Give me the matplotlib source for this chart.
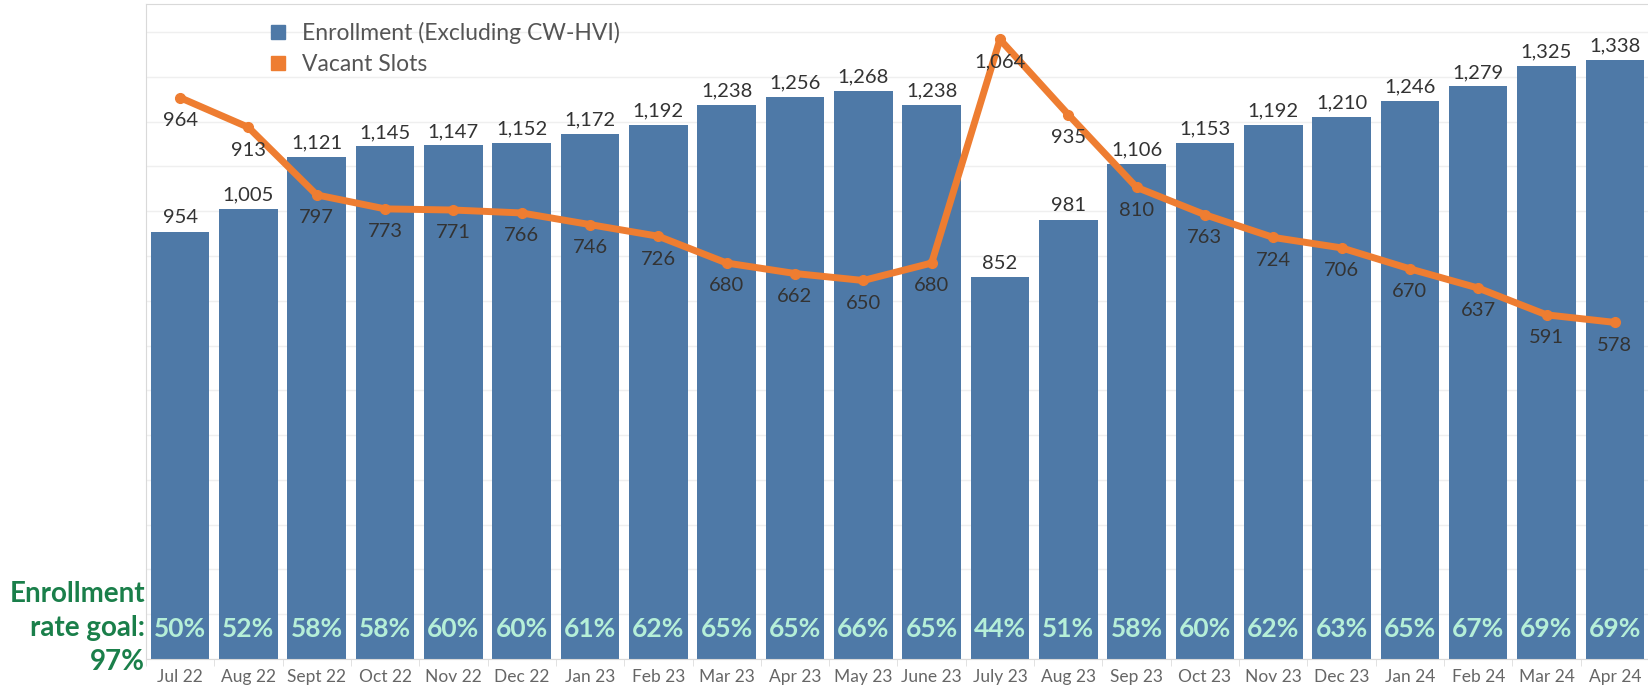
import matplotlib
matplotlib.use("Agg")
import matplotlib.pyplot as plt
from matplotlib.lines import Line2D
import numpy as np

months = ["Jul 22", "Aug 22", "Sept 22", "Oct 22", "Nov 22", "Dec 22", "Jan 23", "Feb 23",
          "Mar 23", "Apr 23", "May 23", "June 23", "July 23", "Aug 23", "Sep 23", "Oct 23",
          "Nov 23", "Dec 23", "Jan 24", "Feb 24", "Mar 24", "Apr 24"]
enrollment = [954, 1005, 1121, 1145, 1147, 1152, 1172, 1192, 1238, 1256, 1268, 1238,
              852, 981, 1106, 1153, 1192, 1210, 1246, 1279, 1325, 1338]
vacant = [964, 913, 797, 773, 771, 766, 746, 726, 680, 662, 650, 680,
          1064, 935, 810, 763, 724, 706, 670, 637, 591, 578]
rate = [50, 52, 58, 58, 60, 60, 61, 62, 65, 65, 66, 65, 44, 51, 58, 60, 62, 63, 65, 67, 69, 69]

BLUE = "#4e79a7"
ORANGE = "#ee7d31"
GREEN = "#1a7f4a"
MINT = "#b5efd8"
TEXT = "#333333"

plt.rcParams["font.family"] = ["Lato", "DejaVu Sans"]

fig = plt.figure(figsize=(16.49, 6.87), dpi=100)
ax = fig.add_axes([0.0885, 0.0408, 0.9115, 0.9535])
x = np.arange(len(months))

ax.bar(x, enrollment, width=0.857, color=BLUE, zorder=2)
ax.set_xlim(-0.5, len(months) - 0.5)
ax.set_ylim(0, 1463)
ax.set_yticks(np.arange(0, 1401, 100))
ax.yaxis.grid(True, color="#efefef", linewidth=1.0, zorder=0)
ax.set_axisbelow(True)
ax.set_xticks(x)
ax.set_xticklabels(months, fontsize=12.5, color="#666666")
ax.tick_params(axis="x", length=0, pad=7)
ax.set_xticks(np.arange(-0.5, len(months), 1), minor=True)
ax.tick_params(axis="x", which="minor", length=5, color="#dddddd")
for side in ["left", "top", "bottom"]:
    ax.spines[side].set_color("#d9d9d9")
ax.spines["right"].set_visible(False)

for xi, v in zip(x, enrollment):
    ax.annotate(f"{v:,}", (xi, v), xytext=(0, 10), textcoords="offset points",
                ha="center", va="center", fontsize=14.5, color=TEXT, zorder=5)
for xi, r in zip(x, rate):
    ax.text(xi, 68, f"{r}%", ha="center", va="center", fontsize=19, fontweight="bold",
            color=MINT, zorder=5)

# vacant slots on their own scale
ax2 = ax.twinx()
ax2.set_ylim(0, 1125)
ax2.plot(x, vacant, color=ORANGE, linewidth=5, marker="o", markersize=7, zorder=4,
         solid_capstyle="round", solid_joinstyle="round")
for a in (ax, ax2):
    a.tick_params(axis="y", left=False, right=False, labelleft=False, labelright=False)
for side in ["left", "top", "bottom", "right"]:
    ax2.spines[side].set_visible(False)
for xi, v in zip(x, vacant):
    ax2.annotate(f"{v:,}", (xi, v), xytext=(0, -16.5), textcoords="offset points",
                 ha="center", va="center", fontsize=14.5, color=TEXT, zorder=5)

handles = [Line2D([], [], marker="s", linestyle="none", markersize=9.5, color=BLUE),
           Line2D([], [], marker="s", linestyle="none", markersize=9.5, color=ORANGE)]
leg = ax2.legend(handles, ["Enrollment (Excluding CW-HVI)", "Vacant Slots"],
                 loc="upper left", bbox_to_anchor=(0.062, 0.997), frameon=False,
                 fontsize=16.5, handletextpad=0.05, labelspacing=0.42, borderaxespad=0.3)
for t in leg.get_texts():
    t.set_color("#555555")

fig.text(0.088, 0.086, "Enrollment\nrate goal:\n97%", ha="right", va="center",
         fontsize=20, fontweight="bold", color=GREEN, linespacing=1.38)

fig.savefig("out.png", dpi=100)
